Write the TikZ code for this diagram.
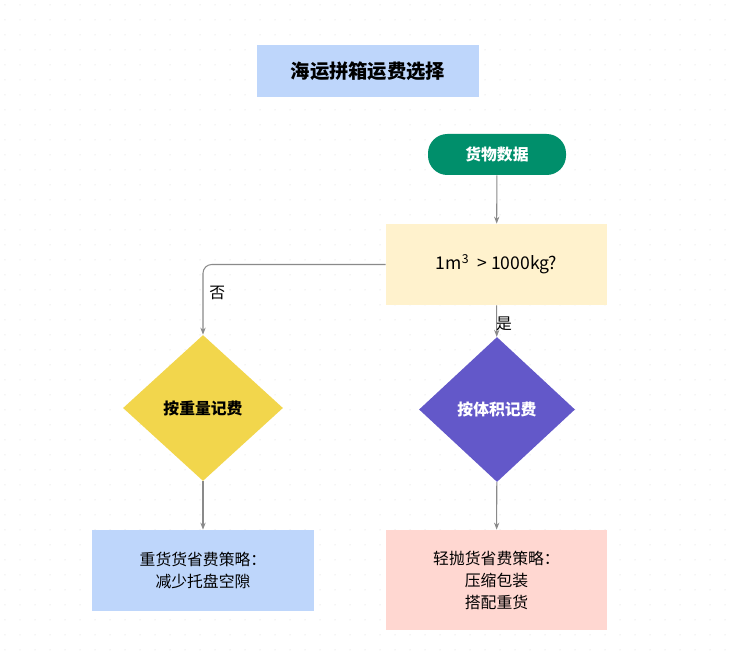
\documentclass[tikz,border=0pt]{standalone}
\usepackage{fontspec}
\setmainfont{Noto Sans CJK SC}
\usetikzlibrary{shapes.geometric,arrows.meta}
\definecolor{tblue}{HTML}{BED6FB}
\definecolor{tgreen}{HTML}{008F6B}
\definecolor{tyellow}{HTML}{FFF2CD}
\definecolor{dyellow}{HTML}{F2D64C}
\definecolor{dpurple}{HTML}{6358C9}
\definecolor{tpink}{HTML}{FFD7D1}
\definecolor{lgray}{HTML}{8A8A8A}
\tikzset{
  conn/.style={draw=lgray, line width=0.6pt, -{Stealth[length=4pt,width=3pt]}},
  body/.style={font=\fontsize{9}{12.5}\selectfont, align=center},
  bold/.style={font=\fontsize{9}{12}\selectfont\bfseries}
}
\begin{document}
\begin{tikzpicture}[x=0.569pt,y=-0.569pt]
\useasboundingbox (0,0) rectangle (731,658);
\fill[white] (0,0) rectangle (731,658);
\foreach \i in {0,...,48}{\foreach \j in {0,...,43}{\fill[gray!35] (\i*15+5,\j*15+5) circle (0.5);}}
\node[fill=tblue, minimum width=222*0.569pt, minimum height=52*0.569pt, font=\fontsize{11}{13}\selectfont\bfseries] (title) at (368,71) {海运拼箱运费选择};
\node[fill=tgreen, rounded corners=11pt, minimum width=138*0.569pt, minimum height=41*0.569pt, text=white, bold] (start) at (497,154.5) {货物数据};
\node[fill=tyellow, minimum width=221*0.569pt, minimum height=81*0.569pt, font=\fontsize{10}{12}\selectfont] (q) at (496.5,264.5) {1m\textsuperscript{3}\ \ > 1000kg?};
\node[diamond, fill=dyellow, minimum width=160*0.569pt, minimum height=146*0.569pt, inner sep=0pt, aspect=1.1, bold] (w) at (203,408) {按重量记费};
\node[diamond, fill=dpurple, minimum width=156*0.569pt, minimum height=145*0.569pt, inner sep=0pt, aspect=1.08, text=white, bold] (v) at (497,409.5) {按体积记费};
\node[fill=tblue, minimum width=222*0.569pt, minimum height=81*0.569pt, body] (a) at (203,570.5) {重货货省费策略：\\减少托盘空隙};
\node[fill=tpink, minimum width=221*0.569pt, minimum height=100*0.569pt, body] (b) at (496.5,580) {轻抛货省费策略：\\压缩包装\\搭配重货};
\draw[conn] (start) -- (q);
\draw[conn, rounded corners=5pt] (q.west) -| (w.north) node[pos=0.7, right, body, xshift=0pt] {否};
\draw[conn] (q) -- (v) node[pos=0.6, right, body, xshift=-4pt] {是};
\draw[conn] (w) -- (a);
\draw[conn] (v) -- (b);
\end{tikzpicture}
\end{document}
